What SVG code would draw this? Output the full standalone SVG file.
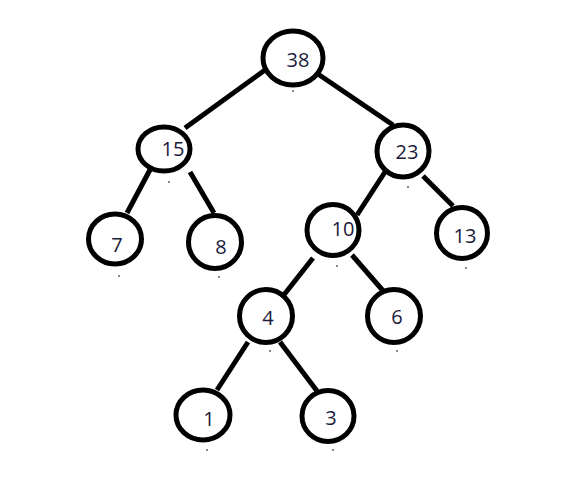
<svg xmlns="http://www.w3.org/2000/svg" width="574" height="492" viewBox="0 0 574 492">
<style>
.n ellipse{fill:#fff;stroke:#000;stroke-width:5}
.n text{font-family:"Open Sans","Noto Sans",sans-serif;font-size:20px;fill:#1a1a3a;text-anchor:middle}
.e line{stroke:#000;stroke-width:5}
.d{fill:#888}
</style>
<rect width="574" height="492" fill="#fff"/>
<g class="e" id="edges">
<line x1="265" y1="70" x2="185" y2="128"/>
<line x1="315" y1="72" x2="393" y2="125"/>
<line x1="152" y1="166" x2="127" y2="213"/>
<line x1="190" y1="172" x2="214" y2="213"/>
<line x1="385" y1="172" x2="357" y2="215"/>
<line x1="423" y1="176" x2="453" y2="206"/>
<line x1="313" y1="258" x2="283" y2="296"/>
<line x1="352" y1="255" x2="385" y2="293"/>
<line x1="248" y1="342" x2="217" y2="390"/>
<line x1="280" y1="342" x2="317" y2="391"/>
</g>
<g class="n" id="n38"><ellipse cx="293" cy="58" rx="30" ry="27"/><text x="298" y="67">38</text></g>
<g class="n" id="n15"><ellipse cx="164" cy="149" rx="26" ry="22"/><text x="173" y="156">15</text></g>
<g class="n" id="n23"><ellipse cx="403" cy="151" rx="26" ry="26"/><text x="407" y="159">23</text></g>
<g class="n" id="n7"><ellipse cx="115" cy="239" rx="26.5" ry="25"/><text x="117" y="252">7</text></g>
<g class="n" id="n8"><ellipse cx="215" cy="242" rx="26.5" ry="26.5"/><text x="221" y="254">8</text></g>
<g class="n" id="n10"><ellipse cx="333" cy="230" rx="26" ry="25.5"/><text x="343" y="236">10</text></g>
<g class="n" id="n13"><ellipse cx="462" cy="233" rx="25.5" ry="25.5"/><text x="465" y="243">13</text></g>
<g class="n" id="n4"><ellipse cx="266" cy="316" rx="26.5" ry="26.5"/><text x="268" y="325">4</text></g>
<g class="n" id="n6"><ellipse cx="394" cy="316" rx="26.5" ry="26.5"/><text x="397" y="324">6</text></g>
<g class="n" id="n1"><ellipse cx="203" cy="415" rx="27" ry="25"/><text x="209" y="426">1</text></g>
<g class="n" id="n3"><ellipse cx="328" cy="416" rx="26" ry="25.5"/><text x="331" y="425">3</text></g>
<g id="dots">
<rect class="d" x="292" y="90" width="2" height="2"/>
<rect class="d" x="168" y="181" width="2" height="2"/>
<rect class="d" x="407" y="186" width="2" height="2"/>
<rect class="d" x="118" y="275" width="2" height="2"/>
<rect class="d" x="218" y="276" width="2" height="2"/>
<rect class="d" x="336" y="265" width="2" height="2"/>
<rect class="d" x="465" y="267" width="2" height="2"/>
<rect class="d" x="269" y="350" width="2" height="2"/>
<rect class="d" x="396" y="350" width="2" height="2"/>
<rect class="d" x="206" y="449" width="2" height="2"/>
<rect class="d" x="332" y="449" width="2" height="2"/>
</g>
</svg>
